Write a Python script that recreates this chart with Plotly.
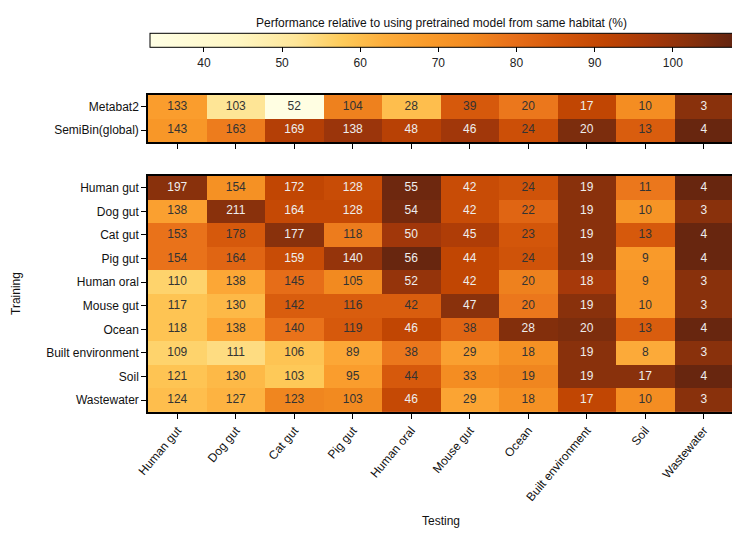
import plotly.graph_objects as go

testing = ["Human gut", "Dog gut", "Cat gut", "Pig gut", "Human oral", "Mouse gut",
           "Ocean", "Built environment", "Soil", "Wastewater"]
baseline_models = ["Metabat2", "SemiBin(global)"]
training = ["Human gut", "Dog gut", "Cat gut", "Pig gut", "Human oral", "Mouse gut",
            "Ocean", "Built environment", "Soil", "Wastewater"]

# displayed counts (numbers in cells)
baseline_counts = [
    [133, 103, 52, 104, 28, 39, 20, 17, 10, 3],
    [143, 163, 169, 138, 48, 46, 24, 20, 13, 4],
]
training_counts = [
    [197, 154, 172, 128, 55, 42, 24, 19, 11, 4],
    [138, 211, 164, 128, 54, 42, 22, 19, 10, 3],
    [153, 178, 177, 118, 50, 45, 23, 19, 13, 4],
    [154, 164, 159, 140, 56, 44, 24, 19, 9, 4],
    [110, 138, 145, 105, 52, 42, 20, 18, 9, 3],
    [117, 130, 142, 116, 42, 47, 20, 19, 10, 3],
    [118, 138, 140, 119, 46, 38, 28, 20, 13, 4],
    [109, 111, 106, 89, 38, 29, 18, 19, 8, 3],
    [121, 130, 103, 95, 44, 33, 19, 19, 17, 4],
    [124, 127, 123, 103, 46, 29, 18, 17, 10, 3],
]

# relative performance (%) used for colour
baseline_rel = [
    [68, 52, 34, 76, 60, 85, 78, 91, 73, 102],
    [70, 77, 94, 99, 93, 98, 88, 104, 84, 107],
]
training_rel = [
    [102, 72, 91, 89, 106, 89, 87, 102, 78, 107],
    [67, 102, 90, 90, 105, 89, 82, 102, 71, 102],
    [79, 85, 102, 77, 98, 95, 86, 102, 85, 107],
    [79, 82, 89, 100, 107, 91, 87, 102, 69, 107],
    [56, 65, 80, 74, 100, 91, 76, 97, 70, 102],
    [59, 61, 84, 84, 84, 102, 78, 102, 70, 102],
    [59, 65, 79, 85, 91, 82, 103, 104, 84, 107],
    [56, 54, 59, 65, 78, 67, 72, 102, 64, 102],
    [59, 61, 58, 68, 85, 73, 75, 102, 102, 107],
    [60, 62, 75, 74, 90, 66, 72, 91, 73, 102],
]

cmin, cmax = 33.1, 107.7
colorscale = [
    [0.0, "#FFFFE5"], [0.15, "#FFF7C4"], [0.25, "#FEE699"], [0.33, "#FECB5A"],
    [0.40, "#FDAE3C"], [0.48, "#F99A2A"], [0.55, "#F28A20"], [0.62, "#E8701A"],
    [0.70, "#D5580B"], [0.78, "#C04503"], [0.86, "#A5380A"], [0.93, "#86300C"],
    [1.0, "#632410"],
]
FONT = "Liberation Sans, Arial, sans-serif"

fig = go.Figure()

fig.add_trace(go.Heatmap(
    z=training_rel, x=testing, y=training, colorscale=colorscale,
    zmin=cmin, zmax=cmax, xaxis="x", yaxis="y", hoverinfo="skip",
    colorbar=dict(
        orientation="h", x=0.5017, xanchor="center", y=0.962, yanchor="middle",
        lenmode="pixels", len=583, thickness=14, outlinecolor="black", outlinewidth=1,
        tickmode="linear", tick0=40, dtick=10, ticks="outside", ticklen=5,
        tickcolor="black", tickfont=dict(size=12, color="#222", family=FONT),
        xpad=0, ypad=0,
        title=dict(text="Performance relative to using pretrained model from same habitat (%)",
                   side="top", font=dict(size=12, color="#111", family=FONT)),
    ),
))
fig.add_trace(go.Heatmap(
    z=baseline_rel, x=testing, y=baseline_models, colorscale=colorscale,
    zmin=cmin, zmax=cmax, xaxis="x2", yaxis="y2", showscale=False, hoverinfo="skip",
))


def txt_colors(rel):
    return ["#EEEEEE" if v >= 88.5 else "#333333" for row in rel for v in row]


def flat(rows, cols, vals):
    xs, ys, ts = [], [], []
    for i, r in enumerate(rows):
        for j, c in enumerate(cols):
            xs.append(c)
            ys.append(r)
            ts.append(str(vals[i][j]))
    return xs, ys, ts


xs, ys, ts = flat(training, testing, training_counts)
fig.add_trace(go.Scatter(x=xs, y=ys, text=ts, mode="text", xaxis="x", yaxis="y",
                         textfont=dict(size=12, family=FONT, color=txt_colors(training_rel)),
                         hoverinfo="skip", showlegend=False))
xs, ys, ts = flat(baseline_models, testing, baseline_counts)
fig.add_trace(go.Scatter(x=xs, y=ys, text=ts, mode="text", xaxis="x2", yaxis="y2",
                         textfont=dict(size=12, family=FONT, color=txt_colors(baseline_rel)),
                         hoverinfo="skip", showlegend=False))

axis_common = dict(showline=True, linecolor="black", linewidth=1.5, mirror=True,
                   ticks="outside", ticklen=5, tickcolor="black", showgrid=False,
                   zeroline=False, automargin=False,
                   tickfont=dict(size=12, color="#111", family=FONT))

fig.update_layout(
    width=732, height=530,
    margin=dict(l=140, r=7, t=22, b=126, autoexpand=False),
    paper_bgcolor="white", plot_bgcolor="white",
    showlegend=False,
    xaxis=dict(domain=[0, 1], anchor="y", tickangle=-50, categoryorder="array",
               categoryarray=testing, **axis_common),
    yaxis=dict(domain=[0, 0.618], anchor="x", autorange="reversed", categoryorder="array",
               categoryarray=training, **axis_common),
    xaxis2=dict(domain=[0, 1], anchor="y2", matches="x", showticklabels=False,
                categoryorder="array", categoryarray=testing, **axis_common),
    yaxis2=dict(domain=[0.7068, 0.8298], anchor="x2", autorange="reversed",
                categoryorder="array", categoryarray=baseline_models, **axis_common),
    annotations=[
        dict(text="Training", x=(8 - 140) / 585, xref="paper", xanchor="center",
             y=0.309, yref="paper", yanchor="middle", textangle=-90, showarrow=False,
             font=dict(size=12, color="#111", family=FONT)),
        dict(text="Testing", x=0.5017, xref="paper", xanchor="center", y=-109 / 382,
             yref="paper", yanchor="middle", showarrow=False,
             font=dict(size=12, color="#111", family=FONT)),
    ],
)

fig.write_html("out.html")
